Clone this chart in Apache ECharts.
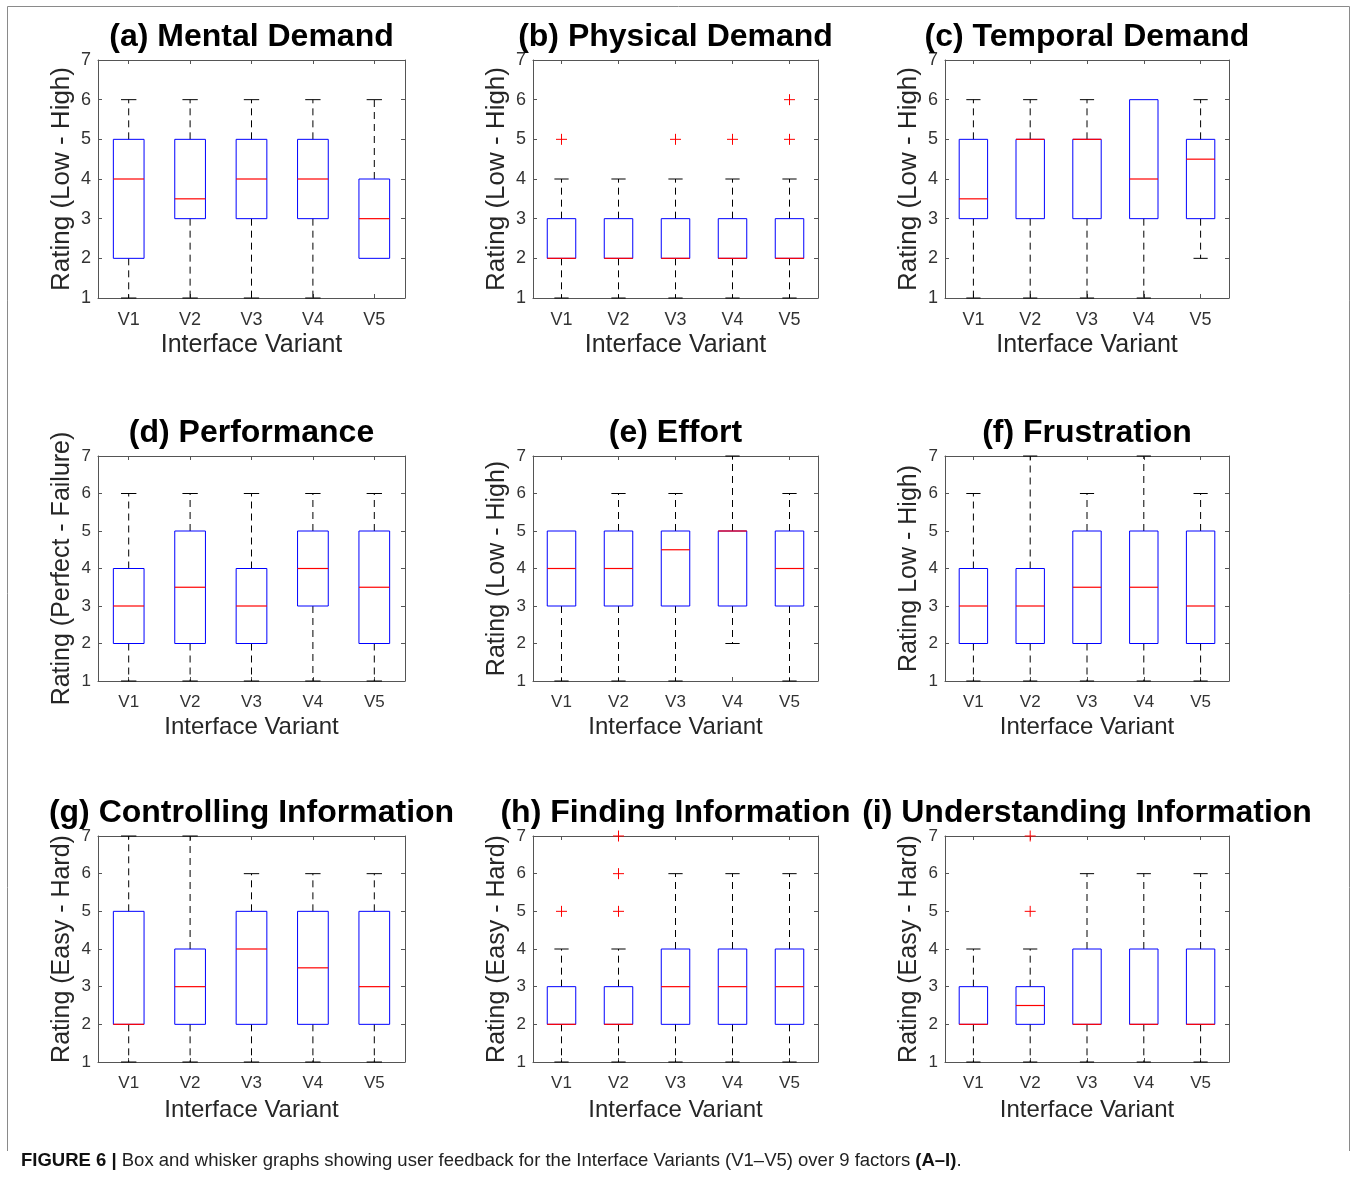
<!DOCTYPE html>
<html><head><meta charset="utf-8">
<script src="https://cdn.jsdelivr.net/npm/echarts@6/dist/echarts.min.js"></script>
<style>html,body{margin:0;padding:0;background:#fff}#c{width:1354px;height:1180px}</style>
</head><body><div id="c"></div>
<script>
// ---------- data ----------
const categories = ['V1', 'V2', 'V3', 'V4', 'V5'];
const yMin = 1, yMax = 7, yStep = 1;
const panelTitles = ['(a) Mental Demand', '(b) Physical Demand', '(c) Temporal Demand',
  '(d) Performance', '(e) Effort', '(f) Frustration',
  '(g) Controlling Information', '(h) Finding Information', '(i) Understanding Information'];
const yAxisNames = ['Rating (Low - High)', 'Rating (Low - High)', 'Rating (Low - High)',
  'Rating (Perfect - Failure)', 'Rating (Low - High)', 'Rating Low - High)',
  'Rating (Easy - Hard)', 'Rating (Easy - Hard)', 'Rating (Easy - Hard)'];
const xAxisName = 'Interface Variant';
// each row: [min whisker, q1, median, q3, max whisker] for V1..V5
const mentalDemand   = [[1,2,4,5,6],[1,3,3.5,5,6],[1,3,4,5,6],[1,3,4,5,6],[2,2,3,4,6]];
const physicalDemand = [[1,2,2,3,4],[1,2,2,3,4],[1,2,2,3,4],[1,2,2,3,4],[1,2,2,3,4]];
const temporalDemand = [[1,3,3.5,5,6],[1,3,5,5,6],[1,3,5,5,6],[1,3,4,6,6],[2,3,4.5,5,6]];
const performance    = [[1,2,3,4,6],[1,2,3.5,5,6],[1,2,3,4,6],[1,3,4,5,6],[1,2,3.5,5,6]];
const effort         = [[1,3,4,5,5],[1,3,4,5,6],[1,3,4.5,5,6],[2,3,5,5,7],[1,3,4,5,6]];
const frustration    = [[1,2,3,4,6],[1,2,3,4,7],[1,2,3.5,5,6],[1,2,3.5,5,7],[1,2,3,5,6]];
const controllingInfo   = [[1,2,2,5,7],[1,2,3,4,7],[1,2,4,5,6],[1,2,3.5,5,6],[1,2,3,5,6]];
const findingInfo       = [[1,2,2,3,4],[1,2,2,3,4],[1,2,3,4,6],[1,2,3,4,6],[1,2,3,4,6]];
const understandingInfo = [[1,2,2,3,4],[1,2,2.5,3,4],[1,2,2,4,6],[1,2,2,4,6],[1,2,2,4,6]];
// outliers: [variant index, value]
const mentalOutliers = [];
const physicalOutliers = [[0,5],[2,5],[3,5],[4,5],[4,6]];
const temporalOutliers = [];
const performanceOutliers = [];
const effortOutliers = [];
const frustrationOutliers = [];
const controllingOutliers = [];
const findingOutliers = [[0,5],[1,5],[1,6],[1,7]];
const understandingOutliers = [[1,5],[1,7]];
const captionBold1 = 'FIGURE 6 |';
const captionText = ' Box and whisker graphs showing user feedback for the Interface Variants (V1\u2013V5) over 9 factors ';
const captionBold2 = '(A\u2013I)';

const panelStats = [mentalDemand, physicalDemand, temporalDemand, performance, effort, frustration,
  controllingInfo, findingInfo, understandingInfo];
const panelOutliers = [mentalOutliers, physicalOutliers, temporalOutliers, performanceOutliers,
  effortOutliers, frustrationOutliers, controllingOutliers, findingOutliers, understandingOutliers];

// ---------- layout ----------
const colL = [98, 533, 945], colR = [405, 818, 1229];
const rowT = [60, 456, 836], rowB = [298, 681, 1062];
const xNameGap = [35, 34, 36];
const yNameSize = [26, 25, 25];
const xNameSize = [25, 24, 24];
const tickSize = [18, 17, 17];
const FONT = '"Liberation Sans", Arial, Helvetica, sans-serif';
const AX = '#555', LBL = '#333';

function renderBox(params, api) {
  const i = api.value(0);
  const pt = k => api.coord([i, api.value(k)]);
  const lo = pt(1), q1 = pt(2), md = pt(3), q3 = pt(4), hi = pt(5);
  const band = api.size([1, 0])[0];
  const x = lo[0], hb = band * 0.25, hc = band * 0.125;
  const dash = { stroke: '#000', lineWidth: 1, lineDash: [7, 5], fill: null };
  const solid = { stroke: '#000', lineWidth: 1, fill: null };
  const kids = [];
  if (q3[1] - hi[1] > 0.5) {
    kids.push({ type: 'line', shape: { x1: x, y1: q3[1], x2: x, y2: hi[1] }, style: dash });
    kids.push({ type: 'line', shape: { x1: x - hc, y1: hi[1], x2: x + hc, y2: hi[1] }, style: solid });
  }
  if (lo[1] - q1[1] > 0.5) {
    kids.push({ type: 'line', shape: { x1: x, y1: q1[1], x2: x, y2: lo[1] }, style: dash });
    kids.push({ type: 'line', shape: { x1: x - hc, y1: lo[1], x2: x + hc, y2: lo[1] }, style: solid });
  }
  kids.push({ type: 'rect', shape: { x: x - hb, y: q3[1], width: 2 * hb, height: q1[1] - q3[1] },
    style: { fill: null, stroke: '#0000ff', lineWidth: 1 } });
  kids.push({ type: 'line', shape: { x1: x - hb, y1: md[1], x2: x + hb, y2: md[1] },
    style: { stroke: '#ff0000', lineWidth: 1.2 } });
  return { type: 'group', children: kids };
}
function renderPlus(params, api) {
  const c = api.coord([api.value(0), api.value(1)]);
  const s = 5.5;
  const st = { stroke: '#ff0000', lineWidth: 1 };
  return { type: 'group', children: [
    { type: 'line', shape: { x1: c[0] - s, y1: c[1], x2: c[0] + s, y2: c[1] }, style: st },
    { type: 'line', shape: { x1: c[0], y1: c[1] - s, x2: c[0], y2: c[1] + s }, style: st }
  ] };
}

const grid = [], xAxis = [], yAxis = [], series = [], graphic = [];
for (let p = 0; p < 9; p++) {
  const r = Math.floor(p / 3), c = p % 3;
  grid.push({ left: colL[c], top: rowT[r], width: colR[c] - colL[c], height: rowB[r] - rowT[r],
    containLabel: false, outerBoundsMode: 'none' });
  const tick = { show: true, inside: true, alignWithLabel: true, length: 4, lineStyle: { color: AX, width: 1 } };
  const line = { show: true, onZero: false, lineStyle: { color: AX, width: 1 } };
  xAxis.push({ type: 'category', gridIndex: p, data: categories, position: 'bottom', boundaryGap: true,
    axisLine: line, axisTick: tick, splitLine: { show: false },
    axisLabel: { margin: 13, fontSize: tickSize[r], color: LBL, fontFamily: FONT },
    name: xAxisName, nameLocation: 'middle', nameGap: xNameGap[r],
    nameTextStyle: { fontSize: xNameSize[r], color: '#262626', fontFamily: FONT } });
  xAxis.push({ type: 'category', gridIndex: p, data: categories, position: 'top', boundaryGap: true,
    axisLine: line, axisTick: tick, axisLabel: { show: false }, splitLine: { show: false } });
  yAxis.push({ type: 'value', gridIndex: p, min: yMin, max: yMax, interval: yStep, position: 'left',
    axisLine: line, axisTick: { show: true, inside: true, length: 4, lineStyle: { color: AX, width: 1 } },
    splitLine: { show: false },
    axisLabel: { margin: 7, fontSize: tickSize[r], color: LBL, fontFamily: FONT },
    name: yAxisNames[p], nameLocation: 'middle', nameGap: 36 - yNameSize[r] / 2,
    nameTextStyle: { fontSize: yNameSize[r], color: '#262626', fontFamily: FONT } });
  yAxis.push({ type: 'value', gridIndex: p, min: yMin, max: yMax, interval: yStep, position: 'right',
    axisLine: line, axisTick: { show: true, inside: true, length: 4, lineStyle: { color: AX, width: 1 } },
    axisLabel: { show: false }, splitLine: { show: false } });
  series.push({ type: 'custom', xAxisIndex: 2 * p, yAxisIndex: 2 * p, renderItem: renderBox, silent: true,
    clip: false, encode: { x: 0, y: [1, 2, 3, 4, 5] },
    data: panelStats[p].map((s, i) => [i].concat(s)) });
  series.push({ type: 'custom', xAxisIndex: 2 * p, yAxisIndex: 2 * p, renderItem: renderPlus, silent: true,
    clip: false, encode: { x: 0, y: 1 }, data: panelOutliers[p], z: 5 });
  graphic.push({ type: 'text', z: 100, x: (colL[c] + colR[c]) / 2, y: rowT[r] - 23,
    style: { text: panelTitles[p], font: 'bold 32px ' + FONT, fill: '#000',
      align: 'center', verticalAlign: 'middle', textAlign: 'center', textVerticalAlign: 'middle' } });
}
graphic.push({ type: 'rect', z: 1, shape: { x: 7.5, y: 6.5, width: 1342, height: 1200 },
  style: { fill: null, stroke: '#8a8a8a', lineWidth: 1 } });
graphic.push({ type: 'rect', z: 2, shape: { x: 0, y: 1151, width: 1354, height: 29 },
  style: { fill: '#fff', stroke: null } });
graphic.push({ type: 'text', z: 100, x: 21, y: 1161,
  style: { text: '{b|' + captionBold1 + '}' + captionText + '{b|' + captionBold2 + '}.',
    font: '18.5px ' + FONT, fill: '#222', verticalAlign: 'middle', textVerticalAlign: 'middle',
    rich: { b: { fontWeight: 'bold', fontSize: 18.5, fontFamily: FONT, fill: '#111' } } } });

const chart = echarts.init(document.getElementById('c'), null, { renderer: 'canvas' });
chart.setOption({ backgroundColor: '#fff', animation: false, grid, xAxis, yAxis, series, graphic });
</script></body></html>
